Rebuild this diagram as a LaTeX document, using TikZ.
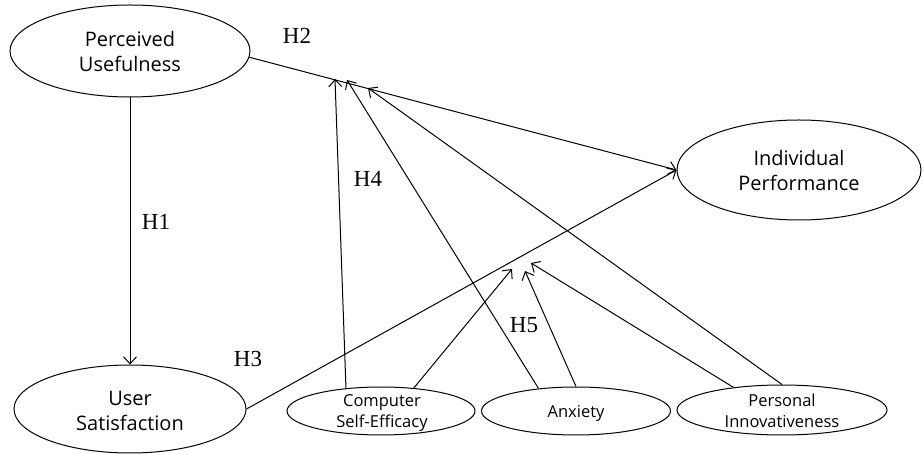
\documentclass[tikz,border=0pt]{standalone}
\usepackage{fontspec}
\setmainfont{Liberation Serif}
\newfontfamily\ovalfont{Open Sans}
\usetikzlibrary{shapes.geometric,arrows.meta}
\begin{document}
\begin{tikzpicture}[x=1pt,y=-1pt,
  oval/.style={draw, ellipse, line width=1pt, inner sep=0pt},
  bigtxt/.style={align=center, inner sep=0pt, font=\ovalfont\fontsize{20}{25}\selectfont},
  smalltxt/.style={align=center, inner sep=0pt, font=\ovalfont\fontsize{16.5}{21}\selectfont},
  hyp/.style={inner sep=0pt, font=\fontsize{23}{26}\selectfont},
  link/.style={line width=1pt, -{Straight Barb[length=7pt,width=13pt]}},
  plainline/.style={line width=1pt}]
\useasboundingbox (0,0) rectangle (922,454);

% ovals
\node[oval, minimum width=240pt, minimum height=92pt] (pu) at (130,51) {};
\node[oval, minimum width=244pt, minimum height=100pt] (ip) at (799,170) {};
\node[oval, minimum width=232pt, minimum height=88pt] (us) at (130,409) {};
\node[oval, minimum width=188pt, minimum height=48pt] (cse) at (381,411) {};
\node[oval, minimum width=189pt, minimum height=48pt] (anx) at (576,411) {};
\node[oval, minimum width=210pt, minimum height=50pt] (pin) at (782,410) {};

% texts
\node[bigtxt] (put) at (130,52) {Perceived\\Usefulness};
\node[bigtxt] (ipt) at (799,171) {Individual\\Performance};
\node[bigtxt] (ust) at (130,411) {User\\Satisfaction};
\node[smalltxt] (cset) at (382,413) {Computer\\Self-Efficacy};
\node[smalltxt] (anxt) at (576,413) {Anxiety};
\node[smalltxt] (pint) at (782,411) {Personal\\Innovativeness};

% hypothesis labels
\node[hyp] (h1) at (156,222) {H1};
\node[hyp] (h2) at (297,36) {H2};
\node[hyp] (h3) at (248,359) {H3};
\node[hyp] (h4) at (368,179) {H4};
\node[hyp] (h5) at (524,325) {H5};

% arrow end points on the paths
\coordinate (m4a) at (335,79);
\coordinate (m4b) at (347,80);
\coordinate (m4c) at (368,88);
\coordinate (m5a) at (512,269);
\coordinate (m5b) at (525,271);
\coordinate (m5c) at (531,263);

% main paths
\draw[link] (pu.south) -- (us.north);
\draw[link] (pu.-3) -- (ip.west);
\draw[link] (us.east) -- (ip.west);

% moderators on H2
\draw[link] (cse.147) -- (m4a);
\draw[link] (anx.149) -- (m4b);
\draw[link] (pin.north) -- (m4c);

% moderators on H3
\draw[link] (cse.35) -- (m5a);
\draw[link] (anx.north) -- (m5b);
\draw[link] (pin.155) -- (m5c);
\end{tikzpicture}
\end{document}
